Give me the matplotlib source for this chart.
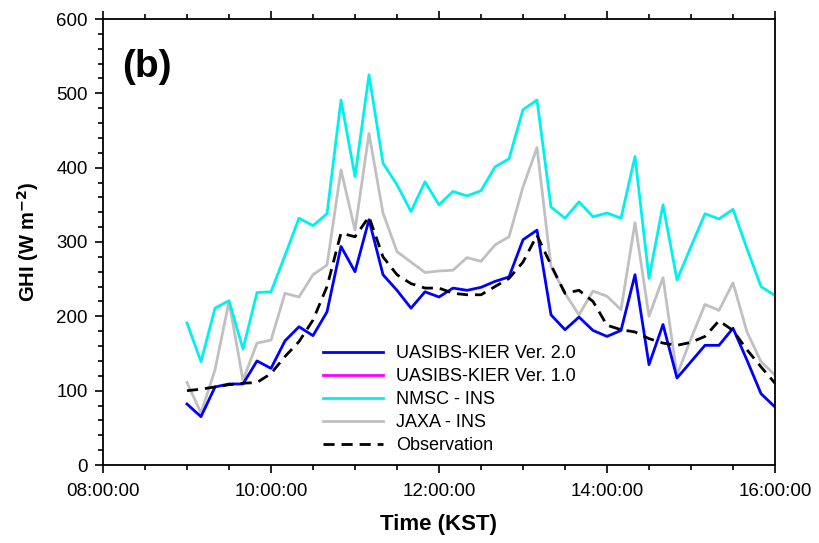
import matplotlib
matplotlib.use("Agg")
import matplotlib.pyplot as plt
from matplotlib.lines import Line2D
from matplotlib.ticker import MultipleLocator
import numpy as np

plt.rcParams['font.family'] = ['Liberation Sans', 'DejaVu Sans']

# time in hours (KST), 10-minute steps from 09:00 to 16:00
time_h = [9 + i / 6 for i in range(43)]

uasibs_v2 = [82, 65, 105, 109, 109, 140, 130, 167, 186, 174, 206, 294, 260, 330, 256,
             235, 211, 233, 226, 238, 235, 239, 247, 253, 303, 316, 202, 182, 199, 181,
             173, 181, 256, 135, 189, 117, 139, 161, 161, 184, 141, 96, 78]
nmsc_ins = [191, 139, 211, 221, 156, 232, 233, 282, 332, 322, 338, 491, 388, 525, 406,
            377, 341, 381, 350, 368, 362, 369, 401, 412, 478, 491, 347, 332, 354, 334,
            339, 332, 415, 251, 350, 249, 294, 338, 331, 344, 291, 240, 228]
jaxa_ins = [111, 70, 128, 220, 114, 164, 168, 231, 226, 256, 269, 397, 316, 446, 339,
            287, 273, 259, 261, 262, 279, 274, 296, 307, 374, 427, 267, 231, 202, 234,
            227, 209, 326, 200, 252, 121, 170, 216, 208, 245, 179, 139, 121]
observation = [100, 102, 105, 108, 110, 111, 123, 146, 166, 195, 240, 312, 307, 334, 280,
               256, 244, 238, 238, 231, 229, 229, 240, 251, 273, 309, 269, 231, 235, 220,
               188, 182, 179, 170, 164, 161, 165, 173, 194, 181, 155, 132, 110]

xtick_pos = [8, 10, 12, 14, 16]
xtick_labels = ["08:00:00", "10:00:00", "12:00:00", "14:00:00", "16:00:00"]
legend_labels = ["UASIBS-KIER Ver. 2.0", "UASIBS-KIER Ver. 1.0", "NMSC - INS",
                 "JAXA - INS", "Observation"]

fig = plt.figure(figsize=(8.19, 5.43), dpi=100)
ax = fig.add_axes([103/819, 1 - 465/543, (775-103)/819, (465-19)/543])

lw = 2.0
dash = (0, (4, 2.5))
ax.plot(time_h, jaxa_ins, color='#c0c0c0', lw=lw)
ax.plot(time_h, nmsc_ins, color='#00f0f0', lw=lw)
ax.plot(time_h, uasibs_v2, color='#0000ff', lw=lw)
ax.plot(time_h, observation, color='black', lw=lw, ls=dash)

ax.set_xlim(8, 16)
ax.set_ylim(0, 600)
ax.set_xticks(xtick_pos)
ax.set_xticklabels(xtick_labels)
ax.xaxis.set_minor_locator(MultipleLocator(0.5))
ax.yaxis.set_major_locator(MultipleLocator(100))
ax.yaxis.set_minor_locator(MultipleLocator(20))
ax.tick_params(which='both', direction='out', top=True, right=False, labelsize=13.5, width=1.2)
ax.tick_params(which='major', length=6)
ax.tick_params(which='minor', length=3.5)
ax.tick_params(axis='x', pad=7)
ax.tick_params(axis='y', pad=5)
for s in ax.spines.values():
    s.set_linewidth(1.3)

ax.set_xlabel("Time (KST)", fontsize=16, fontweight='bold', labelpad=10)
ax.set_ylabel("GHI (W m$^{\\mathbf{-2}}$)", fontsize=14.5, fontweight='bold', labelpad=11)

ax.text(122/819, 1 - 67/543, "(b)", transform=fig.transFigure, fontsize=28,
        fontweight='bold', va='center', ha='left')

handles = [Line2D([], [], color='#0000ff', lw=lw),
           Line2D([], [], color='#ff00ff', lw=lw),
           Line2D([], [], color='#00f0f0', lw=lw),
           Line2D([], [], color='#c0c0c0', lw=lw),
           Line2D([], [], color='black', lw=lw, ls=dash)]
ax.legend(handles, legend_labels, loc='upper left',
          bbox_to_anchor=((323-103)/672, (465-345)/446),
          frameon=False, fontsize=13, handlelength=3.3, labelspacing=0.33,
          handletextpad=0.75, borderaxespad=0, borderpad=0)

fig.savefig("out.png", dpi=100)
